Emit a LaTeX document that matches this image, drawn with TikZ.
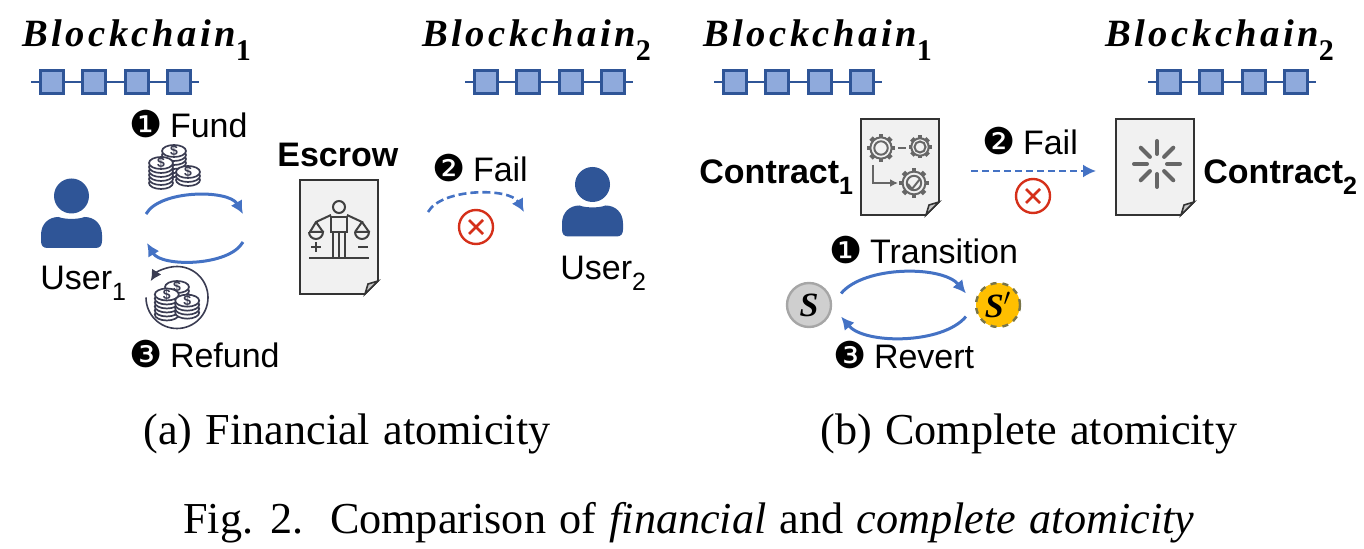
\documentclass[tikz,border=0pt]{standalone}
\usepackage{fontspec}
\setmainfont{Liberation Sans}
\newfontfamily\capfont[WordSpace=1.2]{Liberation Serif}
\newfontfamily\chainfont[LetterSpace=9]{Liberation Serif}
\newfontfamily\markfont{DejaVu Sans}
\usetikzlibrary{arrows.meta,positioning}
\definecolor{blockfill}{HTML}{8FAADC}
\definecolor{navy}{HTML}{2F5597}
\definecolor{flowblue}{HTML}{4472C4}
\definecolor{coinink}{HTML}{3A3C52}
\definecolor{failred}{HTML}{D5301A}
\definecolor{paper}{HTML}{F1F1F1}
\definecolor{gearink}{HTML}{666666}
\newcommand{\lowidx}[1]{\raisebox{-.32em}{\fontsize{12.5}{12.5}\selectfont #1}}
\newcommand{\chainidx}[1]{\raisebox{-.36em}{\fontsize{15}{15}\selectfont\upshape #1}}
\newcommand{\stepmark}[1]{{\markfont\fontsize{18.5}{18.5}\selectfont #1}\kern-1pt\relax}

\begin{document}
\begin{tikzpicture}[
    x=0.5pt, y=-0.5pt,
    txt/.style={font=\fontsize{17}{17}\selectfont, inner sep=0pt, anchor=base west},
    boldtxt/.style={txt, font=\fontsize{17}{17}\selectfont\bfseries},
    chaintxt/.style={inner sep=0pt, anchor=base west, font=\chainfont\fontsize{19.3}{19.3}\selectfont\bfseries\itshape},
    captxt/.style={inner sep=0pt, anchor=base west, font=\capfont\fontsize{22.1}{22.1}\selectfont},
    block/.style={draw=navy, fill=blockfill, line width=1.4pt, minimum size=11.5pt, inner sep=0pt},
    link/.style={draw=navy, line width=1.4pt},
    flow/.style={draw=flowblue, line width=1.5pt, -{Latex[length=6.5pt,width=6.5pt]}},
    failflow/.style={flow, line width=1.3pt, dash pattern=on 4pt off 2pt},
    failline/.style={flow, line width=1pt, dash pattern=on 3.5pt off 2pt},
    sheet/.style={draw=black!80, fill=paper, line width=0.8pt},
    state/.style={circle, minimum size=22pt, inner sep=0pt, line width=1.2pt, font=\capfont\fontsize{17}{17}\selectfont\bfseries\itshape},
    failnode/.style={circle, draw=failred, line width=1.2pt, minimum size=17pt, inner sep=0pt},
    failcross/.style={draw=failred, line width=1.3pt},
    pics/chain/.style={code={
      \draw[link] (0,0) -- (168,0);
      \foreach \i in {0,1,2,3}
        \node[block] (#1\i) at (21+42.3*\i,0) {};
    }},
    pics/person/.style={code={
      \fill[navy] (0,0) circle (17.5);
      \fill[navy] (-24,52) .. controls (-28.5,52) and (-30.5,49.5) .. (-30.5,45) -- (-30.5,39) .. controls (-30.5,28) and (-23,21) .. (-13,21) .. controls (-7,23.5) and (7,23.5) .. (13,21) .. controls (23,21) and (30.5,28) .. (30.5,39) -- (30.5,45) .. controls (30.5,49.5) and (28.5,52) .. (24,52) -- cycle;
    }},
    pics/sheetpage/.style={code={
      \draw[sheet] (0,0) -- (78,0) -- (78,#1-13) -- (65,#1) -- (0,#1) -- cycle;
      \draw[sheet, fill=black!22] (78,#1-13) -- (68,#1-10) -- (65,#1) -- cycle;
    }},
    pics/coinstack/.style={code={
      \foreach \k in {#1,...,0}
        \draw[coinink, fill=white, line width=0.85pt] (0,4*\k) ellipse (12 and 6);
      \node[coinink, inner sep=0pt, font=\fontsize{7}{7}\selectfont\bfseries, transform shape] at (0,0) {\$};
    }},
    pics/gear/.style={code={
      \foreach \a in {0,45,...,315}
        \draw[gearink, line width=2.4pt] (\a:0.7*#1) -- (\a:#1);
      \draw[gearink, line width=1pt, fill=paper] (0,0) circle (0.76*#1);
      \draw[gearink, line width=1pt] (0,0) circle (0.48*#1);
    }}
  ]
    \path[use as bounding box] (0,0) rectangle (1364,549);

    % headings and chains
    \node[chaintxt] (bc1) at (22,47) {Blockchain\chainidx{1}};
    \node[chaintxt] (bc2) at (422,47) {Blockchain\chainidx{2}};
    \node[chaintxt] (bc3) at (703,47) {Blockchain\chainidx{1}};
    \node[chaintxt] (bc4) at (1105,47) {Blockchain\chainidx{2}};
    \pic at (31,82) {chain=ca};
    \pic at (465,82) {chain=cb};
    \pic at (714,82) {chain=cc};
    \pic at (1148,82) {chain=cd};

    % financial atomicity
    \pic at (71.5,196) {person};
    \pic at (592.5,184.5) {person};
    \node[txt] (user1) at (40,290) {User\lowidx{1}};
    \node[txt] (user2) at (560,280) {User\lowidx{2}};
    \node[txt] (fund) at (129,138) {\stepmark{❶} Fund};
    \node[txt] (refund) at (129,368) {\stepmark{❸} Refund};
    \node[boldtxt] (escrow) at (277,167) {Escrow};
    \node[txt] (fail1) at (432,182) {\stepmark{❷} Fail};

    \pic at (174,151) {coinstack=5};
    \pic at (161,163) {coinstack=5};
    \pic at (188,172) {coinstack=2};

    \coordinate (ftop1) at (146,214);
    \coordinate (ftop2) at (243,214);
    \coordinate (fbot1) at (243,242);
    \coordinate (fbot2) at (147,243);
    \draw[flow] (ftop1) to[bend left=60, looseness=0.75] (ftop2);
    \draw[flow] (fbot1) to[bend left=60, looseness=0.75] (fbot2);

    \draw[coinink, line width=0.8pt, -{Latex[length=5.5pt,width=5.5pt]}] (146,297.5) arc[start angle=180, end angle=-148, radius=31];
    \begin{scope}[shift={(177,297)}, scale=0.68]
      \pic at (0,-14.7) {coinstack=5};
      \pic at (-15,-3.7) {coinstack=5};
      \pic at (15,5.4) {coinstack=3};
    \end{scope}

    \pic at (300,180) {sheetpage=114};
    % balance figure on the escrow page
    \begin{scope}[line width=1pt, draw=black!75]
      \draw (339,207) circle (6);
      \draw (331,217) rectangle (347,232);
      \draw (333,232) -- (333,258) (339,232) -- (339,258) (345,232) -- (345,258);
      \draw (331,215) -- (316,222) -- (310,232) (316,222) -- (323,232);
      \draw (347,215) -- (362,222) -- (355,232) (362,222) -- (369,232);
      \draw (309,232) -- (323,232) arc[start angle=0, end angle=180, radius=7];
      \draw (355,232) -- (369,232) arc[start angle=0, end angle=180, radius=7];
      \draw (311,247) -- (321,247) (316,242) -- (316,252);
      \draw (358,247) -- (368,247);
      \draw (309,258) -- (369,258);
    \end{scope}

    \coordinate (fail1a) at (428,212);
    \coordinate (fail1b) at (524,212);
    \draw[failflow] (fail1a) to[bend left=60, looseness=0.75] (fail1b);
    \node[failnode] (x1) at (476,227) {};
    \draw[failcross] ([shift={(-7,-7)}]x1.center) -- ([shift={(7,7)}]x1.center);
    \draw[failcross] ([shift={(-7,7)}]x1.center) -- ([shift={(7,-7)}]x1.center);

    % complete atomicity
    \node[boldtxt] (con1) at (699,184) {Contract\lowidx{1}};
    \node[boldtxt] (con2) at (1203,184) {Contract\lowidx{2}};
    \pic at (861,119) {sheetpage=96};
    \pic at (1116,119) {sheetpage=96};
    \pic at (881,148) {gear=14};
    \pic at (920,147) {gear=11.5};
    \pic at (914,183) {gear=15};
    \draw[gearink, line width=1pt] (898,148) -- (906,148);
    \draw[gearink, line width=1pt, -{Latex[length=4pt,width=4pt]}] (873,165) -- (873,183) -- (898,183);
    \draw[gearink, line width=1pt] (908,184) -- (912,189) -- (920,179);
    \foreach \a in {0,45,...,315}
      \draw[gearink, line width=2pt, line cap=round] (1157,164) ++(\a:10) -- ++(\a:13);

    \coordinate (fail2a) at (971,171);
    \coordinate (fail2b) at (1096,171);
    \draw[failline] (fail2a) -- (fail2b);
    \node[txt] (fail2) at (982,155) {\stepmark{❷} Fail};
    \node[failnode] (x2) at (1033,196) {};
    \draw[failcross] ([shift={(-7,-7)}]x2.center) -- ([shift={(7,7)}]x2.center);
    \draw[failcross] ([shift={(-7,7)}]x2.center) -- ([shift={(7,-7)}]x2.center);

    \node[state, draw=black!35, fill=black!19] (s) at (809,305) {S};
    \node[state, draw=black!60!yellow, dashed, fill=orange!50!yellow] (sp) at (998,305) {S$'$};
    \draw[flow] ([xshift=6pt]s.30) to[bend left=50, looseness=0.75] ([xshift=-6pt]sp.150);
    \draw[flow] ([xshift=-6pt]sp.210) to[bend left=50, looseness=0.75] ([xshift=6pt]s.330);
    \node[txt] (trans) at (829,264) {\stepmark{❶} Transition};
    \node[txt] (revert) at (833,369) {\stepmark{❸} Revert};

    % captions
    \node[captxt] (capa) at (143,444.5) {(a) Financial atomicity};
    \node[captxt] (capb) at (820,444.5) {(b) Complete atomicity};
    \node[captxt] (capfig) at (183,533.5) {Fig. 2.\ \ Comparison of \textit{financial} and \textit{complete atomicity}};
  \end{tikzpicture}
\end{document}
